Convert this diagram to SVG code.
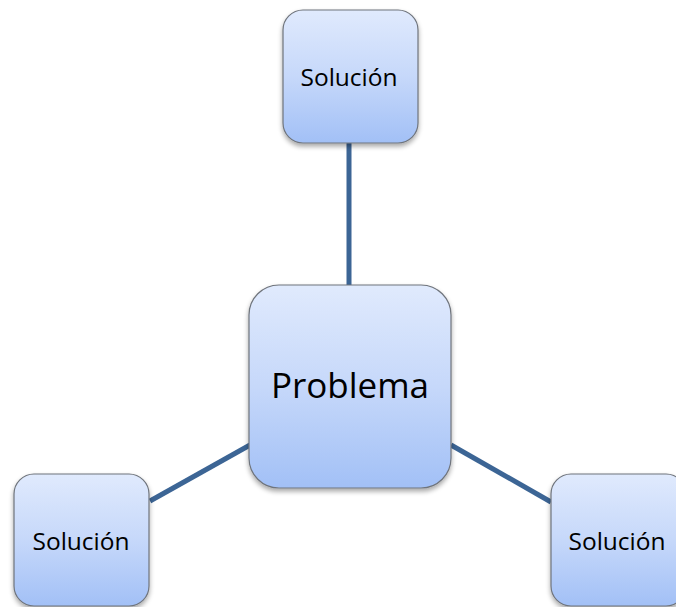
<svg xmlns="http://www.w3.org/2000/svg" width="676" height="607" viewBox="0 0 676 607">
<style>
.node{fill:url(#g);stroke:#6f747c;stroke-width:1.2;filter:url(#sh)}
.lbl{font-family:"Open Sans","Noto Sans","DejaVu Sans",sans-serif;fill:#000;text-anchor:middle}
.conn{stroke:#3c6595;stroke-width:5;fill:none}
</style>
<defs>
<linearGradient id="g" x1="0" y1="0" x2="0" y2="1">
<stop offset="0" stop-color="#e0eafd"/>
<stop offset="0.5" stop-color="#c6d8fa"/>
<stop offset="1" stop-color="#a2c0f6"/>
</linearGradient>
<filter id="sh" x="-20%" y="-20%" width="140%" height="140%">
<feGaussianBlur in="SourceAlpha" stdDeviation="2.5"/>
<feOffset dx="0" dy="3" result="b"/>
<feComponentTransfer><feFuncA type="linear" slope="0.35"/></feComponentTransfer>
<feMerge><feMergeNode/><feMergeNode in="SourceGraphic"/></feMerge>
</filter>
</defs>
<rect width="676" height="607" fill="#fff"/>
<g id="connectors">
<line class="conn" x1="349" y1="143" x2="349" y2="286"/>
<line class="conn" x1="150" y1="501" x2="250" y2="445"/>
<line class="conn" x1="451" y1="445" x2="551" y2="502"/>
</g>
<g id="top">
<rect class="node" x="283" y="10" width="135" height="133" rx="20"/>
<text class="lbl" x="349" y="86" font-size="24.5">Solución</text>
</g>
<g id="center">
<rect class="node" x="249" y="285" width="202" height="203" rx="30"/>
<text class="lbl" x="350" y="398" font-size="35">Problema</text>
</g>
<g id="left">
<rect class="node" x="14" y="474" width="135" height="132" rx="20"/>
<text class="lbl" x="81" y="550" font-size="24.5">Solución</text>
</g>
<g id="right">
<rect class="node" x="551" y="474" width="135" height="132" rx="20"/>
<text class="lbl" x="617" y="550" font-size="24.5">Solución</text>
</g>
</svg>
